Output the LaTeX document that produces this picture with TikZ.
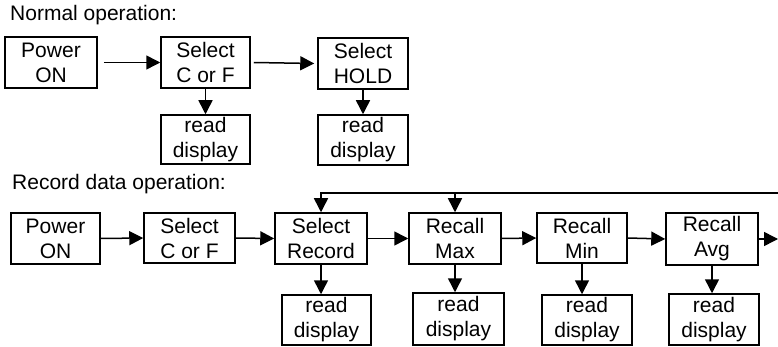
\documentclass[tikz,border=0pt]{standalone}
\usepackage{fontspec}
\setmainfont{Liberation Sans}
\usetikzlibrary{arrows.meta}
\begin{document}
\begin{tikzpicture}[x=1pt,y=-1pt,
  box/.style={draw,line width=1.5pt,inner sep=0pt,align=center,
    font=\fontsize{21}{25}\selectfont},
  arr/.style={line width=1.5pt,-{Triangle[length=14pt,width=14pt]}},
  lbl/.style={anchor=base west,inner sep=0pt,font=\fontsize{21}{25}\selectfont}]
\useasboundingbox (0,0) rectangle (778,347);
\fill[white] (0,0) rectangle (778,347);
% Normal operation
\node[lbl] (t1) at (10,21) {Normal operation:};
\node[box,minimum width=92pt,minimum height=51pt] (n1) at (51,62.5) {Power\\ON};
\node[box,minimum width=89pt,minimum height=51pt] (n2) at (205.5,62.5) {Select\\C or F};
\node[box,minimum width=90pt,minimum height=51pt] (n3) at (363,63.5) {Select\\HOLD};
\node[box,minimum width=89pt,minimum height=49pt] (n2r) at (205.5,139.5) {read\\display};
\node[box,minimum width=90pt,minimum height=50pt] (n3r) at (363,140) {read\\display};
\draw[arr] ([xshift=6pt]n1.east) -- (n2.west);
\draw[arr] ([xshift=3pt]n2.east) -- ([xshift=-3pt]n3.west);
\draw[arr] (n2.south) -- (n2.south |- n2r.north);
\draw[arr] (n3.south) -- (n3.south |- n3r.north);
% Record data operation
\node[lbl] (t2) at (12,190) {Record data operation:};
\node[box,minimum width=89pt,minimum height=51pt] (r1) at (55.5,238.5) {Power\\ON};
\node[box,minimum width=91pt,minimum height=50pt] (r2) at (189.5,238) {Select\\C or F};
\node[box,minimum width=92pt,minimum height=51pt] (r3) at (321,238.5) {Select\\Record};
\node[box,minimum width=92pt,minimum height=51pt] (r4) at (455,238.5) {Recall\\Max};
\node[box,minimum width=90pt,minimum height=50pt] (r5) at (582,238) {Recall\\Min};
\node[box,minimum width=92pt,minimum height=52pt] (r6) at (712,239) {Recall\\Avg};
\node[box,minimum width=89pt,minimum height=50pt] (r3d) at (326.5,320) {read\\display};
\node[box,minimum width=91pt,minimum height=52pt] (r4d) at (458.5,319) {read\\display};
\node[box,minimum width=90pt,minimum height=50pt] (r5d) at (587,320) {read\\display};
\node[box,minimum width=90pt,minimum height=51pt] (r6d) at (714,319.5) {read\\display};
\coordinate (tr) at (778,193);
\coordinate (out) at (778,239);
\draw[arr] (r1.east) -- (r2.west);
\draw[arr] (r2.east) -- (r3.west);
\draw[arr] (r3.east) -- (r4.west);
\draw[arr] (r4.east) -- (r5.west);
\draw[arr] (r5.east) -- (r6.west);
\draw[arr] (r6.east) -- (out);
\draw[arr] (tr) -| (r3.north);
\draw[arr] (r4.north |- tr) -- (r4.north);
\draw[arr] (r3.south) -- (r3.south |- r3d.north);
\draw[arr] (r4.south) -- (r4.south |- r4d.north);
\draw[arr] (r5.south) -- (r5.south |- r5d.north);
\draw[arr] (r6.south) -- (r6.south |- r6d.north);
\end{tikzpicture}
\end{document}
